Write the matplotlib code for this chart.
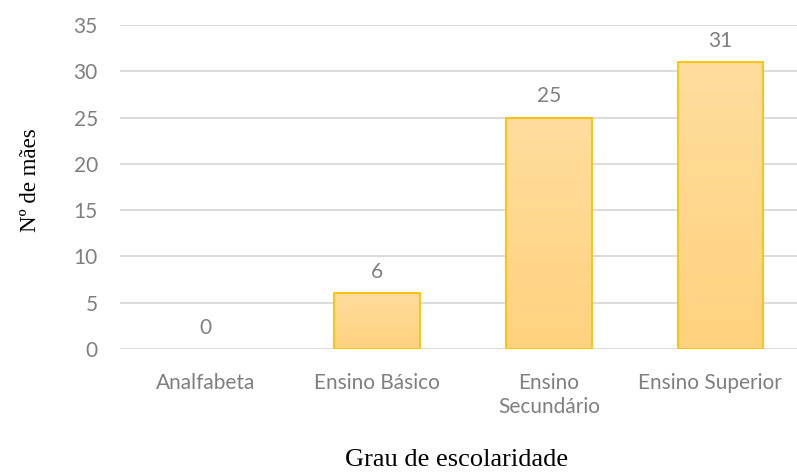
import numpy as np
import matplotlib.pyplot as plt
import matplotlib.transforms as mtransforms
from matplotlib.colors import LinearSegmentedColormap

# ── Data ──────────────────────────────────────────────────────────────────────
categories = ['Analfabeta', 'Ensino Básico', 'Ensino\nSecundário', 'Ensino Superior']
values     = [0, 6, 25, 31]
yticks     = [0, 5, 10, 15, 20, 25, 30, 35]

grey   = '#7F7F7F'
edge   = '#FFC000'
grad   = LinearSegmentedColormap.from_list('g', ['#FFD27E', '#FFDD9E'])
fs     = 15

fig = plt.figure(figsize=(7.97, 4.75), dpi=100)
ax = fig.add_axes([120/797, (475-349)/475, 1 - 120/797, (349-25)/475])

x = np.arange(len(categories))
bars = ax.bar(x, values, width=0.5, color='none', edgecolor=edge, linewidth=1.3, zorder=3)

# vertical gradient fill, clipped to each bar
for b in bars:
    if b.get_height() <= 0:
        b.set_visible(False)
        continue
    x0, y0 = b.get_x(), b.get_y()
    w, h = b.get_width(), b.get_height()
    im = ax.imshow(np.linspace(0, 1, 100).reshape(-1, 1), cmap=grad, origin='lower',
                   extent=[x0, x0 + w, y0, y0 + h], aspect='auto', zorder=2)
    im.set_clip_path(b)

for xi, v in zip(x, values):
    ax.annotate(str(v), (xi, v), xytext=(0, 8), textcoords='offset points',
                ha='center', va='bottom', fontsize=fs, color=grey, family='Lato')

ax.set_xlim(-0.5, 3.446)
ax.set_ylim(0, 35)
ax.set_yticks(yticks)
ax.set_xticks(x)
ax.set_xticklabels(categories, fontsize=fs, color=grey, family='Lato', linespacing=1.3)
ax.tick_params(axis='y', length=0, pad=16, labelsize=fs, labelcolor=grey)
ax.tick_params(axis='x', length=0, pad=17)
for t in ax.get_yticklabels():
    t.set_family('Lato')
# last label pushed left to stay inside the figure
last = ax.get_xticklabels()[-1]
last.set_transform(last.get_transform() + mtransforms.ScaledTranslation(-0.11, 0, fig.dpi_scale_trans))
ax.yaxis.grid(True, color='#D9D9D9', lw=1.3, zorder=0)
ax.set_axisbelow(True)
for s in ax.spines.values():
    s.set_visible(False)

fig.text(31/797, 1 - 180/475, 'Nº de mães', rotation=90, ha='center', va='center',
         fontsize=16.5, family='Liberation Serif')
fig.text(457/797, 1 - 460/475, 'Grau de escolaridade', ha='center', va='center',
         fontsize=19, family='Liberation Serif')

fig.savefig('out.png', dpi=100, facecolor='white')
